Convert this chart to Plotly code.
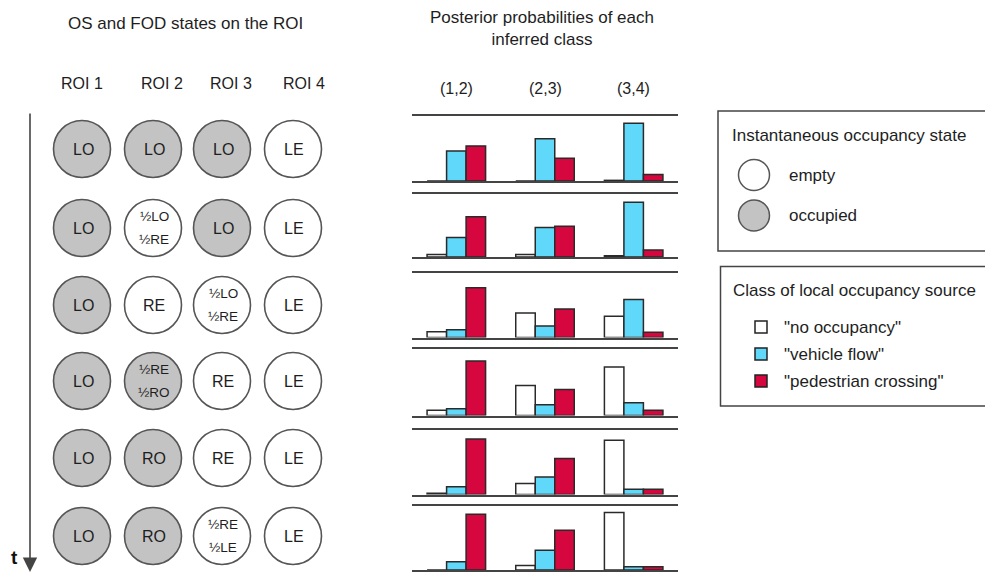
import plotly.graph_objects as go

# page body has an 8px margin: figure starts at (8, 8) in the window
OFF = 8
PW, PH = 993, 575
W, H = PW - OFF, PH - OFF

# ---------------- data ----------------
groups = ["(1,2)", "(2,3)", "(3,4)"]
class_names = ['"no occupancy"', '"vehicle flow"', '"pedestrian crossing"']

# posterior probabilities, one row per time step, one value per ROI pair
no_occupancy = [
    [0.00, 0.00, 0.01],
    [0.04, 0.04, 0.02],
    [0.09, 0.38, 0.33],
    [0.08, 0.45, 0.73],
    [0.02, 0.17, 0.84],
    [0.00, 0.07, 0.90],
]
vehicle_flow = [
    [0.46, 0.65, 0.89],
    [0.31, 0.47, 0.87],
    [0.12, 0.18, 0.59],
    [0.10, 0.16, 0.19],
    [0.12, 0.27, 0.08],
    [0.13, 0.31, 0.05],
]
pedestrian_crossing = [
    [0.54, 0.35, 0.10],
    [0.64, 0.49, 0.11],
    [0.77, 0.44, 0.08],
    [0.82, 0.39, 0.08],
    [0.86, 0.56, 0.08],
    [0.87, 0.62, 0.05],
]

roi_names = ["ROI 1", "ROI 2", "ROI 3", "ROI 4"]
roi_states = [
    ["LO", "LO", "LO", "LE"],
    ["LO", "½LO ½RE", "LO", "LE"],
    ["LO", "RE", "½LO ½RE", "LE"],
    ["LO", "½RE ½RO", "RE", "LE"],
    ["LO", "RO", "RE", "LE"],
    ["LO", "RO", "½RE ½LE", "LE"],
]
roi_occupied = [
    [1, 1, 1, 0],
    [1, 0, 1, 0],
    [1, 0, 0, 0],
    [1, 1, 0, 0],
    [1, 1, 0, 0],
    [1, 1, 0, 0],
]

# ---------------- styling / layout ----------------
FONT = "Liberation Sans, Arial, sans-serif"
TXT = "#1e1e1e"
EDGE = "#444444"
WHITE_C, CYAN_C, RED_C, GRAY_C = "#ffffff", "#5fd8fa", "#d6063f", "#c3c3c3"

row_top = [116, 194, 273, 349, 430, 506]
row_base = [181, 257, 337.5, 415.5, 494.5, 570]
bar_x0, bar_x1 = 412, 678

col_x = [82, 153, 222, 293]
row_y = [149, 228, 305, 381, 458, 536]


def px(p):
    return (p - OFF) / W


def py(p):
    return 1 - (p - OFF) / H


fig = go.Figure()
layout = {}
annotations = []

for r in range(6):
    suf = "" if r == 0 else str(r + 1)
    xa, ya = "x" + suf, "y" + suf
    for vals, color in [(no_occupancy, WHITE_C), (vehicle_flow, CYAN_C), (pedestrian_crossing, RED_C)]:
        fig.add_trace(go.Bar(
            x=groups, y=vals[r], xaxis=xa, yaxis=ya,
            marker=dict(color=color, line=dict(color="#2a2a2a", width=1.5)),
            showlegend=False, hoverinfo="skip",
        ))
    layout["xaxis" + suf] = dict(
        domain=[px(bar_x0), px(bar_x1)], range=[-0.5, 2.5], type="category",
        showline=True, mirror=True, linecolor=EDGE, linewidth=2,
        showticklabels=False, ticks="", showgrid=False, zeroline=False,
        anchor=ya, fixedrange=True,
    )
    layout["yaxis" + suf] = dict(
        domain=[py(row_base[r]), py(row_top[r])], range=[0, 1],
        visible=False, anchor=xa, fixedrange=True,
    )

# overlay axes in window-pixel coordinates for circles / legend
layout["xaxis7"] = dict(domain=[0, 1], range=[OFF, PW], visible=False, anchor="y7", fixedrange=True)
layout["yaxis7"] = dict(domain=[0, 1], range=[PH, OFF], visible=False, anchor="x7", fixedrange=True)

# ROI circles
cx, cy, cfill = [], [], []
for r in range(6):
    for c in range(4):
        cx.append(col_x[c])
        cy.append(row_y[r])
        cfill.append(GRAY_C if roi_occupied[r][c] else WHITE_C)
        parts = roi_states[r][c].split(" ")
        if len(parts) == 1:
            annotations.append(dict(x=col_x[c] + 1, y=row_y[r], xref="x7", yref="y7", text=parts[0],
                                    showarrow=False, font=dict(size=16, color=TXT, family=FONT)))
        else:
            for k, t in enumerate(parts):
                annotations.append(dict(x=col_x[c] + 1, y=row_y[r] - 11.5 + 23 * k, xref="x7", yref="y7",
                                        text=t, showarrow=False,
                                        font=dict(size=13.5, color=TXT, family=FONT)))

fig.add_trace(go.Scatter(
    x=cx, y=cy, xaxis="x7", yaxis="y7", mode="markers",
    marker=dict(size=57, color=cfill, line=dict(color="#555555", width=1.6)),
    showlegend=False, hoverinfo="skip",
))

# legend markers
fig.add_trace(go.Scatter(
    x=[754, 754], y=[175, 215.5], xaxis="x7", yaxis="y7", mode="markers",
    marker=dict(size=31, color=[WHITE_C, GRAY_C], line=dict(color="#555555", width=1.5)),
    showlegend=False, hoverinfo="skip",
))
fig.add_trace(go.Scatter(
    x=[761, 761, 761], y=[327, 354, 381], xaxis="x7", yaxis="y7", mode="markers",
    marker=dict(size=12, symbol="square", color=[WHITE_C, CYAN_C, RED_C],
                line=dict(color="#222222", width=1.5)),
    showlegend=False, hoverinfo="skip",
))

# titles
annotations += [
    dict(x=185, y=23, xref="x7", yref="y7", text="OS and FOD states on the ROI", showarrow=False,
         font=dict(size=17, color=TXT, family=FONT)),
    dict(x=542, y=28, xref="x7", yref="y7", text="Posterior probabilities of each<br>inferred class",
         showarrow=False, font=dict(size=17, color=TXT, family=FONT)),
]
roi_label_x = [82, 162, 231, 304]
for name, xx in zip(roi_names, roi_label_x):
    annotations.append(dict(x=xx, y=83, xref="x7", yref="y7", text=name, showarrow=False,
                            font=dict(size=16, color=TXT, family=FONT)))
for g in groups:
    annotations.append(dict(x=g, y=py(88), xref="x", yref="paper", xanchor="center", yanchor="middle",
                            text=g, showarrow=False, font=dict(size=16, color=TXT, family=FONT)))

# legend texts
annotations += [
    dict(x=730, y=135, xref="x7", yref="y7", xanchor="left", text="Instantaneous occupancy state",
         showarrow=False, font=dict(size=17, color=TXT, family=FONT)),
    dict(x=787, y=175, xref="x7", yref="y7", xanchor="left", text="empty",
         showarrow=False, font=dict(size=17, color=TXT, family=FONT)),
    dict(x=787, y=215.5, xref="x7", yref="y7", xanchor="left", text="occupied",
         showarrow=False, font=dict(size=17, color=TXT, family=FONT)),
    dict(x=731, y=290, xref="x7", yref="y7", xanchor="left", text="Class of local occupancy source",
         showarrow=False, font=dict(size=17, color=TXT, family=FONT)),
]
for name, yy in zip(class_names, [327, 354, 381]):
    annotations.append(dict(x=782, y=yy, xref="x7", yref="y7", xanchor="left", text=name,
                            showarrow=False, font=dict(size=17, color=TXT, family=FONT)))

# time arrow
annotations += [
    dict(x=30, y=572, ax=30, ay=112, xref="x7", yref="y7", axref="x7", ayref="y7", text="",
         showarrow=True, arrowhead=2, arrowsize=1.8, arrowwidth=1.6, arrowcolor="#444444"),
    dict(x=14, y=557, xref="x7", yref="y7", text="<b>t</b>", showarrow=False,
         font=dict(size=19, color="#111111", family=FONT)),
]

shapes = [
    dict(type="rect", xref="paper", yref="paper", x0=px(718), x1=px(1010), y0=py(251), y1=py(111),
         line=dict(color=EDGE, width=1.5)),
    dict(type="rect", xref="paper", yref="paper", x0=px(720.5), x1=px(1010), y0=py(406), y1=py(266.5),
         line=dict(color=EDGE, width=1.5)),
]

fig.update_layout(
    width=W, height=H, margin=dict(l=0, r=0, t=0, b=0),
    paper_bgcolor="white", plot_bgcolor="rgba(0,0,0,0)",
    barmode="group", bargap=0.34, bargroupgap=0,
    annotations=annotations, shapes=shapes,
    font=dict(family=FONT, color=TXT),
    **layout,
)

fig.write_html("out.html")
